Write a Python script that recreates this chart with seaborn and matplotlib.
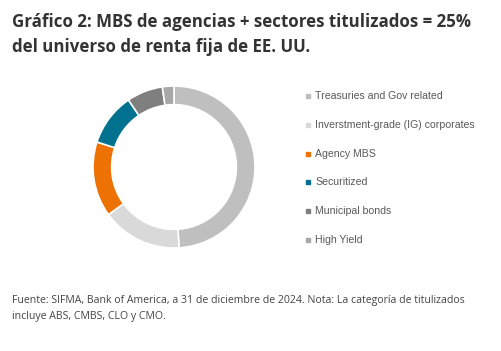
import matplotlib
matplotlib.use("Agg")
import matplotlib.pyplot as plt
import seaborn as sns
from matplotlib.lines import Line2D

categories = ["Treasuries and Gov related", "Inverstment-grade (IG) corporates",
              "Agency MBS", "Securitized", "Municipal bonds", "High Yield"]
values = [49.0, 16.0, 15.0, 10.5, 7.2, 2.3]
colors = ["#bfbfbf", "#d9d9d9", "#ee7203", "#00728f", "#7f7f7f", "#a8a8a8"]

title_lines = ["Gráfico 2: MBS de agencias + sectores titulizados = 25%",
               "del universo de renta fija de EE. UU."]
footer_lines = ["Fuente: SIFMA, Bank of America, a 31 de diciembre de 2024. Nota: La categoría de titulizados",
                "incluye ABS, CMBS, CLO y CMO."]

sns.set_theme(style="white")
plt.rcParams["font.family"] = ["Liberation Sans", "DejaVu Sans"]

W, H = 502, 351
fig = plt.figure(figsize=(W / 100, H / 100), dpi=100)
fig.patch.set_facecolor("white")

cx, cy, r = 174, 167, 81
ax = fig.add_axes([(cx - r) / W, (H - cy - r) / H, 2 * r / W, 2 * r / H])
ax.pie(values, colors=colors, startangle=90, counterclock=False,
       wedgeprops=dict(width=0.23, edgecolor="white", linewidth=1.2))
ax.set_xlim(-1, 1)
ax.set_ylim(-1, 1)
ax.set_aspect("equal")
ax.axis("off")

# legend
y0, dy = 96, 28.8
for i, (lab, col) in enumerate(zip(categories, colors)):
    yy = y0 + i * dy
    fig.add_artist(Line2D([308 / W], [1 - yy / H], marker="s", markersize=2.6,
                          color=col, linestyle="none", transform=fig.transFigure))
    fig.text(315 / W, 1 - yy / H, lab, fontsize=7.55, color="#595959",
             va="center", ha="left", family=["Liberation Sans", "DejaVu Sans"])

for yy, line in zip([22, 47], title_lines):
    fig.text(12 / W, 1 - yy / H, line, fontsize=12.2, fontweight="bold", color="#333333",
             va="center", ha="left", family=["Open Sans", "DejaVu Sans"])
for yy, line in zip([300, 317], footer_lines):
    fig.text(12 / W, 1 - yy / H, line, fontsize=7.6, color="#444444",
             va="center", ha="left", family=["Open Sans", "DejaVu Sans"])

fig.savefig("out.png", dpi=100, facecolor="white")
